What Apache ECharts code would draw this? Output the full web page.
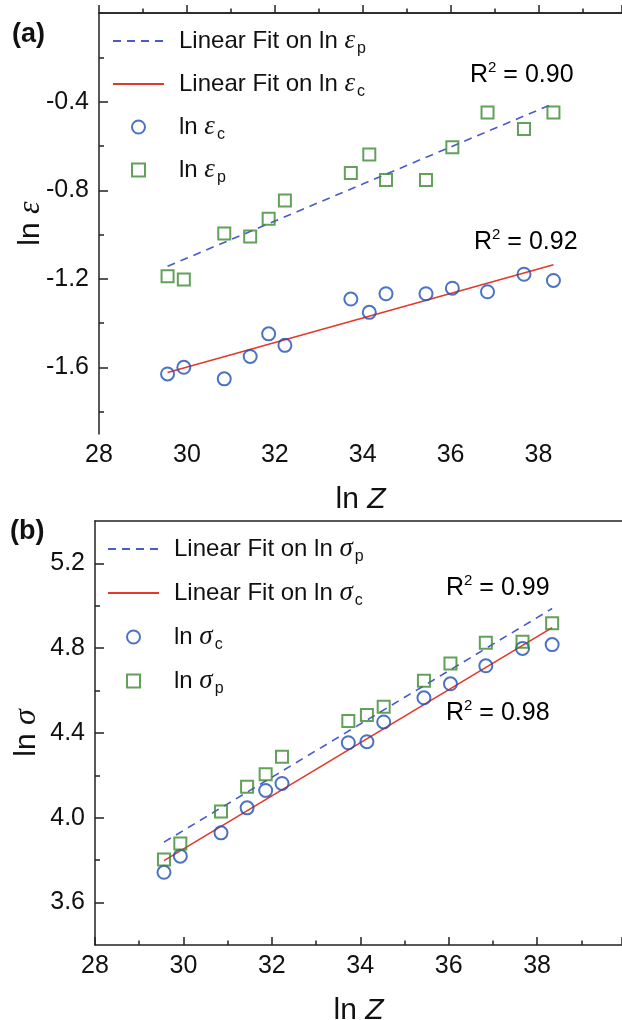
<!DOCTYPE html>
<html>
<head>
<meta charset="utf-8">
<script src="https://cdn.jsdelivr.net/npm/echarts@6/dist/echarts.min.js"></script>
<style>
  html, body { margin: 0; background: #fff; }
  #chart { width: 622px; height: 1020px; }
</style>
</head>
<body>
<div id="chart"></div>
<script>
// ln Z positions shared by both panels
const lnZ = [29.56, 29.93, 30.85, 31.44, 31.86, 32.23, 33.73, 34.15, 34.53, 35.44, 36.04, 36.84, 37.67, 38.34];

// panel (a): ln strain
const lnEpsC = [-1.629, -1.599, -1.651, -1.550, -1.448, -1.500, -1.291, -1.351, -1.267, -1.267, -1.242, -1.258, -1.179, -1.207];
const lnEpsP = [-1.188, -1.203, -0.995, -1.009, -0.929, -0.846, -0.722, -0.639, -0.754, -0.754, -0.606, -0.449, -0.524, -0.449];

// panel (b): ln stress
const lnSigC = [3.743, 3.819, 3.929, 4.047, 4.129, 4.162, 4.354, 4.359, 4.452, 4.566, 4.632, 4.717, 4.799, 4.817];
const lnSigP = [3.803, 3.879, 4.030, 4.146, 4.205, 4.288, 4.457, 4.485, 4.524, 4.646, 4.728, 4.826, 4.831, 4.918];

// fitted lines, end points
const fitZ = [29.56, 38.34];
const fitEpsC = [-1.622, -1.136];
const fitEpsP = [-1.143, -0.409];
const fitSigC = [3.798, 4.897];
const fitSigP = [3.885, 4.987];

// y tick values
const epsMajor = [-1.6, -1.2, -0.8, -0.4];
const epsMinor = [-1.8, -1.4, -1.0, -0.6, -0.2];
const sigMajor = [3.6, 4.0, 4.4, 4.8, 5.2];
const sigMinor = [3.8, 4.2, 4.6, 5.0];

const R2a = ['0.90', '0.92'];
const R2b = ['0.99', '0.98'];

const SANS = '"Liberation Sans", Arial, sans-serif';
const SERIF = '"Liberation Serif", "Times New Roman", serif';
const INK = '#111';
const AXIS = '#222';
const BLUE = '#1f4fb5';
const GREEN = '#3b8a30';
const RED = '#e2392a';
const DASH = '#4a5bc8';
const SQUARE = 'path://M0,0H10V10H0Z';

const pairs = (xs, ys) => xs.map((x, i) => [x, ys[i]]);

const richText = {
  t: { fontFamily: SANS, fontSize: 24, color: INK, lineHeight: 30 },
  e: { fontFamily: SERIF, fontStyle: 'italic', fontSize: 27, color: INK, lineHeight: 30 },
  s: { fontFamily: SANS, fontSize: 16, color: INK, padding: [16, 0, 0, 2] },
  i: { fontFamily: SANS, fontStyle: 'italic', fontSize: 30, color: INK },
  n: { fontFamily: SANS, fontSize: 30, color: INK },
  g: { fontFamily: SERIF, fontStyle: 'italic', fontSize: 32, color: INK },
  sup: { fontFamily: SANS, fontSize: 15, color: INK, padding: [0, 0, 14, 0] }
};

const labelFor = {
  fitPa: '{t|Linear Fit on ln }{e|ε}{s|p}',
  fitCa: '{t|Linear Fit on ln }{e|ε}{s|c}',
  ptCa: '{t|ln }{e|ε}{s|c}',
  ptPa: '{t|ln }{e|ε}{s|p}',
  fitPb: '{t|Linear Fit on ln }{e|σ}{s|p}',
  fitCb: '{t|Linear Fit on ln }{e|σ}{s|c}',
  ptCb: '{t|ln }{e|σ}{s|c}',
  ptPb: '{t|ln }{e|σ}{s|p}'
};

// fit lines show only their line in the legend; the square needs a path icon to stay square
function legendFor(names, left, top, gap) {
  return {
    data: [
      { name: names[0], itemStyle: { opacity: 0 } },
      { name: names[1], itemStyle: { opacity: 0 } },
      { name: names[2] },
      { name: names[3], icon: SQUARE }
    ],
    orient: 'vertical',
    left: left,
    top: top,
    padding: 0,
    itemGap: gap,
    itemWidth: 51,
    itemHeight: 13,
    symbolKeepAspect: true,
    selectedMode: false,
    formatter: name => labelFor[name],
    textStyle: { fontFamily: SANS, fontSize: 24, color: INK, lineHeight: 30, padding: [0, 0, 0, 10], rich: richText }
  };
}

function xAxisFor(gi, max) {
  return {
    gridIndex: gi,
    type: 'value',
    position: 'bottom',
    min: 28,
    max: max,
    interval: 2,
    name: '{n|ln }{i|Z}',
    nameLocation: 'middle',
    nameGap: 51,
    nameMoveOverlap: false,
    nameTextStyle: { rich: richText },
    axisLine: { lineStyle: { color: AXIS, width: 1.5 } },
    axisTick: { inside: true, length: 8, lineStyle: { color: AXIS, width: 1.5 } },
    minorTick: { show: true, splitNumber: 2, length: 4.5, lineStyle: { color: AXIS, width: 1.5 } },
    axisLabel: { fontFamily: SANS, fontSize: 25, color: INK, margin: 9, showMaxLabel: false },
    splitLine: { show: false }
  };
}

// plain top frame line
function topAxisFor(gi, max) {
  return {
    gridIndex: gi,
    type: 'value',
    position: 'top',
    min: 28,
    max: max,
    axisLine: { show: true, lineStyle: { color: AXIS, width: 1.5 } },
    axisTick: { show: false },
    axisLabel: { show: false },
    splitLine: { show: false }
  };
}

function yAxesFor(gi, min, max, major, minor, greek) {
  return [{
    gridIndex: gi,
    type: 'value',
    position: 'left',
    min: min,
    max: max,
    name: '{n|ln }{g|' + greek + '}',
    nameLocation: 'middle',
    nameGap: 52,
    nameMoveOverlap: false,
    nameTextStyle: { rich: richText },
    axisLine: { show: true, lineStyle: { color: AXIS, width: 1.5 } },
    axisTick: { inside: true, length: 9, customValues: major, lineStyle: { color: AXIS, width: 1.5 } },
    axisLabel: { customValues: major, fontFamily: SANS, fontSize: 25, color: INK, margin: 10,
      formatter: v => v.toFixed(1) },
    splitLine: { show: false }
  }, {
    // second axis only carries the short minor ticks
    gridIndex: gi,
    type: 'value',
    position: 'left',
    min: min,
    max: max,
    axisLine: { show: false },
    axisTick: { inside: true, length: 5, customValues: minor, lineStyle: { color: AXIS, width: 1.5 } },
    axisLabel: { show: false },
    splitLine: { show: false }
  }];
}

function fitSeries(name, xi, yi, ys, color, dashed) {
  return {
    name: name, type: 'line', xAxisIndex: xi, yAxisIndex: yi,
    data: pairs(fitZ, ys), symbol: 'none', silent: true, z: 3,
    lineStyle: { color: color, width: 1.6, type: dashed ? [8, 6] : 'solid' },
    itemStyle: { color: color }
  };
}

function ptSeries(name, xi, yi, ys, color, symbol, size) {
  return {
    name: name, type: 'scatter', xAxisIndex: xi, yAxisIndex: yi,
    data: pairs(lnZ, ys), symbol: symbol, symbolSize: size, z: 4,
    itemStyle: { color: 'rgba(255,255,255,0)', borderColor: color, borderWidth: 2 }
  };
}

function r2Text(val, x, y) {
  return {
    type: 'text', x: x, y: y,
    style: { text: '{r|R}{sup|2}{r| = ' + val + '}', verticalAlign: 'middle',
      rich: { r: { fontFamily: SANS, fontSize: 25, color: INK }, sup: richText.sup } }
  };
}

const chart = echarts.init(document.getElementById('chart'), null, { renderer: 'canvas' });

// x range runs to the picture's right edge (frame is cut off there)
const xMaxA = 39.9;
const xMaxB = 39.92;

chart.setOption({
  backgroundColor: '#fff',
  animation: false,
  grid: [
    { left: 99, top: 13, right: 0, bottom: 586, outerBoundsMode: 'none' },
    { left: 95, top: 521, right: 0, bottom: 75, outerBoundsMode: 'none' }
  ],
  legend: [
    legendFor(['fitPa', 'fitCa', 'ptCa', 'ptPa'], 112, 26, 12),
    legendFor(['fitPb', 'fitCb', 'ptCb', 'ptPb'], 107, 534, 13)
  ],
  xAxis: [xAxisFor(0, xMaxA), xAxisFor(1, xMaxB), topAxisFor(0, xMaxA), topAxisFor(1, xMaxB)],
  yAxis: [
    ...yAxesFor(0, -1.9, 0, epsMajor, epsMinor, 'ε'),
    ...yAxesFor(1, 3.4, 5.4, sigMajor, sigMinor, 'σ')
  ],
  series: [
    fitSeries('fitPa', 0, 0, fitEpsP, DASH, true),
    fitSeries('fitCa', 0, 0, fitEpsC, RED, false),
    ptSeries('ptCa', 0, 0, lnEpsC, BLUE, 'circle', 13),
    ptSeries('ptPa', 0, 0, lnEpsP, GREEN, 'rect', 12),
    fitSeries('fitPb', 1, 2, fitSigP, DASH, true),
    fitSeries('fitCb', 1, 2, fitSigC, RED, false),
    ptSeries('ptCb', 1, 2, lnSigC, BLUE, 'circle', 13),
    ptSeries('ptPb', 1, 2, lnSigP, GREEN, 'rect', 12)
  ],
  graphic: [
    { type: 'text', x: 12, y: 35, style: { text: '(a)', fontFamily: SANS, fontWeight: 'bold', fontSize: 27, fill: INK, verticalAlign: 'middle' } },
    { type: 'text', x: 10, y: 532, style: { text: '(b)', fontFamily: SANS, fontWeight: 'bold', fontSize: 27, fill: INK, verticalAlign: 'middle' } },
    r2Text(R2a[0], 470, 75),
    r2Text(R2a[1], 474, 242),
    r2Text(R2b[0], 446, 588),
    r2Text(R2b[1], 446, 713)
  ]
});
</script>
</body>
</html>
